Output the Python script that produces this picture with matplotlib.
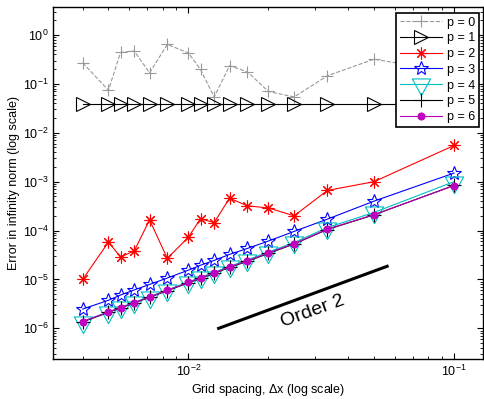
import numpy as np
import matplotlib
matplotlib.use('Agg')
from matplotlib import pyplot as plt
from matplotlib.ticker import NullFormatter

plt.rcParams['font.family'] = ['Liberation Sans', 'DejaVu Sans']
plt.rcParams['mathtext.fontset'] = 'custom'
plt.rcParams['mathtext.rm'] = 'Liberation Sans'
plt.rcParams['mathtext.it'] = 'Liberation Sans'

# Grid spacing (dx = 1/N)
dx = [0.004, 0.005, 0.005556, 0.00625, 0.007143, 0.008333, 0.01, 0.01111,
      0.0125, 0.014286, 0.016667, 0.02, 0.025, 0.033333, 0.05, 0.1]

# Errors in infinity norm
err_p0 = [0.27, 0.074, 0.44, 0.47, 0.168, 0.64, 0.43, 0.197,
          0.054, 0.234, 0.177, 0.07, 0.054, 0.146, 0.32, 0.17]
err_p1 = [0.038, 0.038, 0.038, 0.038, 0.038, 0.038, 0.038, 0.038,
          0.038, 0.038, 0.038, 0.038, 0.038, 0.038, 0.038, 0.038]
err_p2 = [1.0e-5, 5.8e-5, 2.9e-5, 3.8e-5, 1.65e-4, 2.7e-5, 7.3e-5, 1.75e-4,
          1.45e-4, 4.6e-4, 3.2e-4, 2.9e-4, 2.0e-4, 6.6e-4, 1.0e-3, 5.5e-3]
err_p3 = [2.48e-6, 3.75e-6, 4.8e-6, 6.1e-6, 7.9e-6, 1.07e-5, 1.55e-5, 1.95e-5,
          2.45e-5, 3.25e-5, 4.3e-5, 6.1e-5, 9.6e-5, 1.71e-4, 4.0e-4, 1.5e-3]
err_p4 = [1.38e-6, 2.17e-6, 2.68e-6, 3.4e-6, 4.45e-6, 6.1e-6, 8.9e-6, 1.1e-5,
          1.4e-5, 1.86e-5, 2.5e-5, 3.65e-5, 5.7e-5, 1.15e-4, 2.35e-4, 1.0e-3]
err_p5 = [1.35e-6, 2.12e-6, 2.6e-6, 3.3e-6, 4.3e-6, 5.9e-6, 8.5e-6, 1.05e-5,
          1.33e-5, 1.76e-5, 2.35e-5, 3.4e-5, 5.3e-5, 1.05e-4, 2.1e-4, 8.4e-4]
err_p6 = [1.38e-6, 2.16e-6, 2.65e-6, 3.36e-6, 4.37e-6, 6.0e-6, 8.7e-6, 1.07e-5,
          1.36e-5, 1.8e-5, 2.4e-5, 3.5e-5, 5.4e-5, 1.07e-4, 2.12e-4, 8.3e-4]

# Reference slope line
order_x = [0.013, 0.056]
order_y = [1.0e-6, 1.86e-5]

fig = plt.figure(figsize=(4.84, 3.99), dpi=100)
ax = fig.add_axes([0.110, 0.100, 0.887, 0.882])

# triangle with its centroid on the data point (like MATLAB)
tri_down = [(-1.65, 1), (1.65, 1), (0, -2), (-1.65, 1)]

ax.loglog(dx, err_p0, '--', color='#999999', marker='+', ms=9, mew=0.8, lw=0.8, label='p = 0')
ax.loglog(dx, err_p1, '-', color='k', marker='>', ms=10, mfc='none', mew=0.8, lw=0.8, label='p = 1')
ax.loglog(dx, err_p2, '-', color='r', marker=(8, 2, 0), ms=8.5, mew=0.8, lw=0.8, label='p = 2')
ax.loglog(dx, err_p3, '-', color='b', marker='*', ms=10.5, mfc='none', mew=0.8, lw=0.8, label='p = 3')
ax.loglog(dx, err_p4, '-', color='c', marker=tri_down, ms=16, mfc='none', mew=0.8, lw=0.8, label='p = 4')
ax.loglog(dx, err_p5, '-', color='k', marker='+', ms=10, mew=0.8, lw=0.8, label='p = 5')
ax.loglog(dx, err_p6, '-', color='m', marker='o', ms=5, mew=0.8, lw=0.8, label='p = 6')

ax.loglog(order_x, order_y, '-', color='k', lw=2.2)
ax.text(0.0295, 2.2e-6, 'Order 2', rotation=20, fontsize=14, ha='center', va='center')

ax.set_xlim(0.0031, 0.128)
ax.set_ylim(2.35e-7, 3.7)
ax.xaxis.set_minor_formatter(NullFormatter())
ax.yaxis.set_minor_formatter(NullFormatter())
ax.xaxis.get_offset_text().set_visible(False)
ax.yaxis.get_offset_text().set_visible(False)

for s in ax.spines.values():
    s.set_linewidth(1.0)
ax.tick_params(which='both', direction='in', top=True, right=True, labelsize=9)
ax.tick_params(which='major', length=4)
ax.tick_params(which='minor', length=2)

ax.set_xlabel(r'Grid spacing, $\Delta$x (log scale)', fontsize=9, labelpad=2)
ax.set_ylabel('Error in infinity norm (log scale)', fontsize=9, labelpad=2)

leg = ax.legend(loc='upper right', bbox_to_anchor=(0.992, 0.984), borderaxespad=0,
                fontsize=9, fancybox=False, edgecolor='k', framealpha=1,
                handlelength=3.4, labelspacing=0.3, handletextpad=0.4, borderpad=0.3)
leg.get_frame().set_linewidth(1.2)

plt.savefig('out.png', dpi=100)
